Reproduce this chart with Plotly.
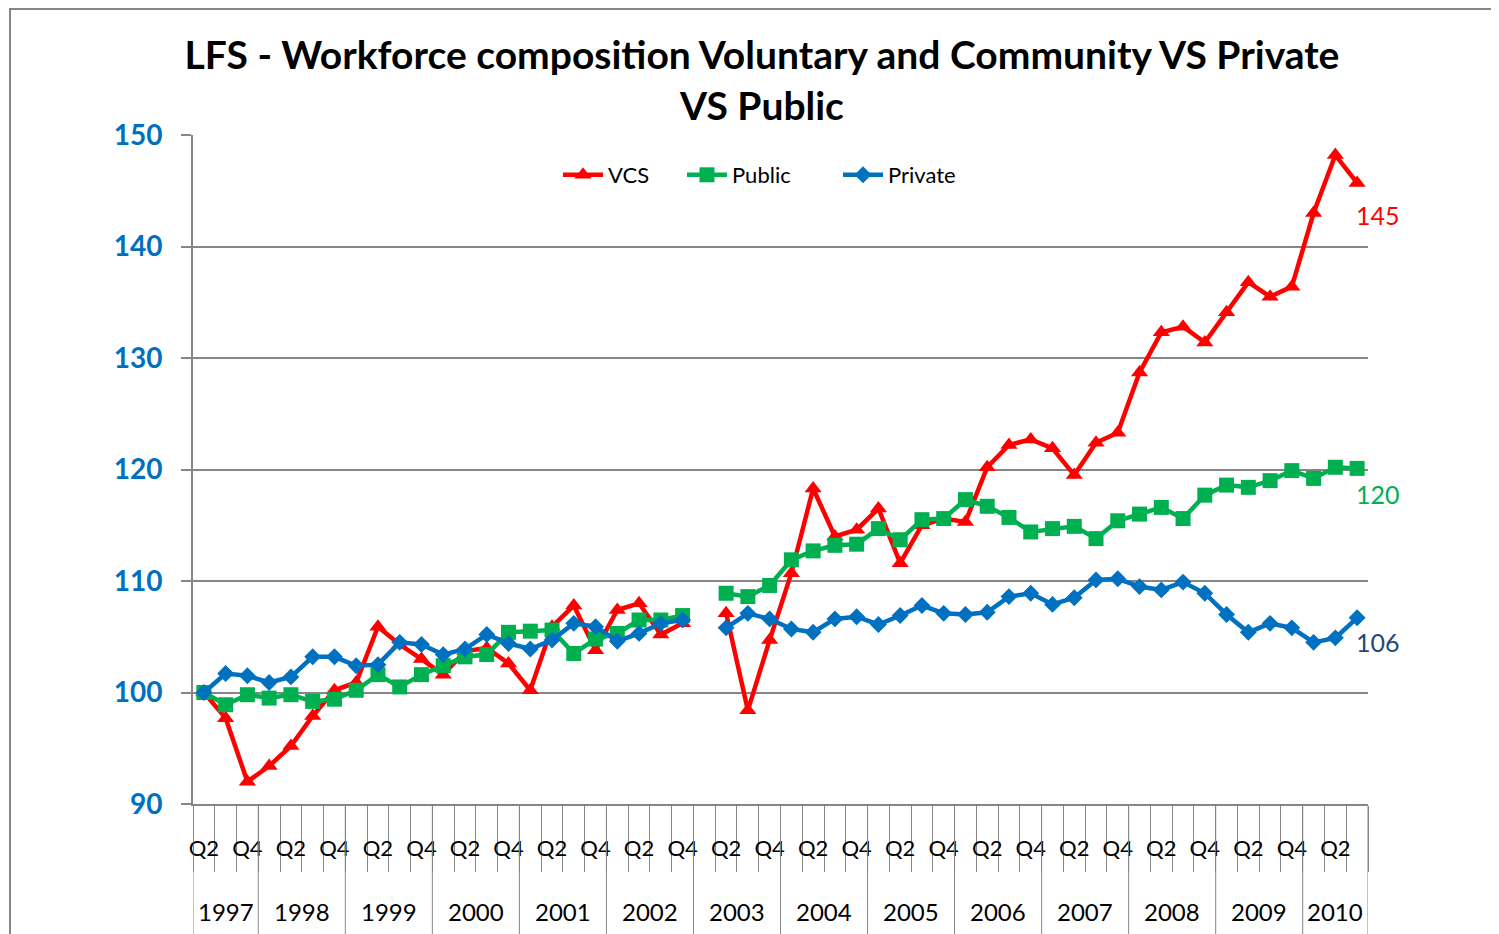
import plotly.graph_objects as go

# Quarters 1997 Q2 .. 2010 Q3
years = [1997] * 3 + [y for y in range(1998, 2010) for _ in range(4)] + [2010] * 3
quarters = [2, 3, 4] + [1, 2, 3, 4] * 12 + [1, 2, 3]

vcs = [100.0, 97.7, 92.0, 93.4, 95.2, 97.9, 100.2, 100.9, 105.9, 104.3, 103.0, 101.6,
       103.7, 104.0, 102.6, 100.2, 105.9, 107.8, 103.8, 107.4, 108.0, 105.2, 106.2,
       None, 107.1, 98.4, 104.7, 110.7, 118.3, 114.0, 114.6, 116.5, 111.6, 115.0,
       115.6, 115.3, 120.2, 122.2, 122.7, 121.9, 119.5, 122.4, 123.3, 128.7, 132.3,
       132.8, 131.4, 134.1, 136.8, 135.5, 136.4, 143.0, 148.2, 145.7]
public = [100.0, 98.9, 99.8, 99.5, 99.8, 99.2, 99.4, 100.2, 101.6, 100.5, 101.6, 102.4,
          103.2, 103.4, 105.4, 105.5, 105.6, 103.5, 104.8, 105.3, 106.5, 106.5, 106.9,
          None, 108.9, 108.6, 109.6, 111.9, 112.7, 113.2, 113.3, 114.7, 113.7, 115.5,
          115.6, 117.3, 116.7, 115.7, 114.4, 114.7, 114.9, 113.8, 115.4, 116.0, 116.6,
          115.6, 117.7, 118.6, 118.4, 119.0, 119.9, 119.2, 120.2, 120.1]
private = [100.0, 101.7, 101.5, 100.9, 101.4, 103.2, 103.2, 102.4, 102.5, 104.5, 104.3,
           103.4, 103.9, 105.2, 104.4, 103.9, 104.7, 106.2, 105.9, 104.6, 105.3, 106.2,
           106.5, None, 105.8, 107.1, 106.6, 105.7, 105.4, 106.6, 106.8, 106.1, 106.9,
           107.8, 107.1, 107.0, 107.2, 108.6, 108.9, 107.9, 108.5, 110.1, 110.2, 109.5,
           109.2, 109.9, 108.9, 107.0, 105.4, 106.2, 105.8, 104.5, 104.9, 106.7]

end_labels = ["145", "120", "106"]

n = len(years)
xs = [i + 0.5 for i in range(n)]

RED, GREEN, BLUE = "#FF0000", "#00B050", "#0070C0"
GRID = "#868686"
FONT = "Lato"
W, H = 1499, 934
OFF = 8  # page body margin
PX0, PX1, PY0, PY1 = 193, 1368, 135, 804  # plot area in page pixels


def px(x):
    return (x - PX0) / (PX1 - PX0)


def py(y):
    return (PY1 - y) / (PY1 - PY0)


fig = go.Figure()
fig.add_trace(go.Scatter(x=xs, y=vcs, name="VCS", mode="lines+markers",
                         line=dict(color=RED, width=4.5),
                         marker=dict(symbol="triangle-up", size=15, color=RED),
                         connectgaps=False, legend="legend"))
fig.add_trace(go.Scatter(x=xs, y=public, name="Public", mode="lines+markers",
                         line=dict(color=GREEN, width=4.5),
                         marker=dict(symbol="square", size=15, color=GREEN),
                         connectgaps=False, legend="legend2"))
fig.add_trace(go.Scatter(x=xs, y=private, name="Private", mode="lines+markers",
                         line=dict(color=BLUE, width=4.5),
                         marker=dict(symbol="diamond", size=13, color=BLUE),
                         connectgaps=False, legend="legend3"))

# Q tick labels (Q2, Q4)
tickvals = [xs[i] for i in range(n) if quarters[i] in (2, 4)]
ticktext = ["Q%d" % quarters[i] for i in range(n) if quarters[i] in (2, 4)]

shapes = []
annotations = []
# year boundaries & labels
bounds = [0]
for i in range(1, n):
    if years[i] != years[i - 1]:
        bounds.append(i)
bounds.append(n)
for b in bounds:
    shapes.append(dict(type="line", xref="x", yref="paper", x0=b, x1=b, y0=0, y1=-0.2,
                       line=dict(color=GRID, width=1)))
for k in range(len(bounds) - 1):
    annotations.append(dict(x=(bounds[k] + bounds[k + 1]) / 2, y=-0.161, xref="x", yref="paper",
                            text=str(years[bounds[k]]), showarrow=False,
                            font=dict(family=FONT, size=24, color="#000000"),
                            xanchor="center", yanchor="middle"))

# end labels
last = n - 1
for val, txt, col, ys in [(vcs[last], end_labels[0], RED, -32),
                          (public[last], end_labels[1], GREEN, -26),
                          (private[last], end_labels[2], "#1F497D", -24)]:
    annotations.append(dict(x=xs[last], y=val, xref="x", yref="y", text=txt, showarrow=False,
                            xanchor="left", yanchor="middle", xshift=-3, yshift=ys,
                            font=dict(family=FONT, size=25, color=col)))

# outer chart frame
shapes.append(dict(type="rect", xref="paper", yref="paper",
                   x0=px(10), x1=px(1530), y0=py(960), y1=py(OFF + 1),
                   line=dict(color=GRID, width=2), layer="below"))

legend_common = dict(orientation="h", xanchor="left", yanchor="middle", y=py(175),
                     font=dict(family=FONT, size=22, color="#000000"),
                     bgcolor="rgba(0,0,0,0)", itemwidth=40)

fig.update_layout(
    width=W, height=H,
    margin=dict(l=PX0 - OFF, r=W - PX1 + OFF, t=PY0 - OFF, b=H - PY1 + OFF),
    paper_bgcolor="white", plot_bgcolor="white",
    title=dict(text="<b>LFS - Workforce composition Voluntary and Community VS Private<br>VS Public</b>",
               x=(762 - OFF) / W, xanchor="center", y=(H - (69 - OFF)) / H, yanchor="middle",
               font=dict(family=FONT, size=39, color="#000000")),
    legend=dict(legend_common, x=px(563 - 5)),
    legend2=dict(legend_common, x=px(687 - 5)),
    legend3=dict(legend_common, x=px(843 - 5)),
    showlegend=True,
    shapes=shapes,
    annotations=annotations,
    xaxis=dict(range=[0, n], tickmode="array", tickvals=tickvals, ticktext=ticktext,
               ticks="", showgrid=False, zeroline=False, showline=True,
               linecolor=GRID, linewidth=2,
               tickfont=dict(family=FONT, size=22, color="#000000"),
               ticklabelstandoff=24,
               minor=dict(tickmode="array", tickvals=list(range(n + 1)), ticks="outside",
                          ticklen=66, tickcolor=GRID, tickwidth=1, showgrid=False)),
    yaxis=dict(range=[90, 150], dtick=10, tick0=90, showgrid=True, gridcolor=GRID, gridwidth=1.5,
               zeroline=False, showline=True, linecolor=GRID, linewidth=2,
               ticks="outside", ticklen=10, tickcolor=GRID, tickwidth=2,
               tickfont=dict(family=FONT, size=28, color=BLUE, weight="bold"),
               ticklabelstandoff=13),
)

fig.write_html("out.html")
